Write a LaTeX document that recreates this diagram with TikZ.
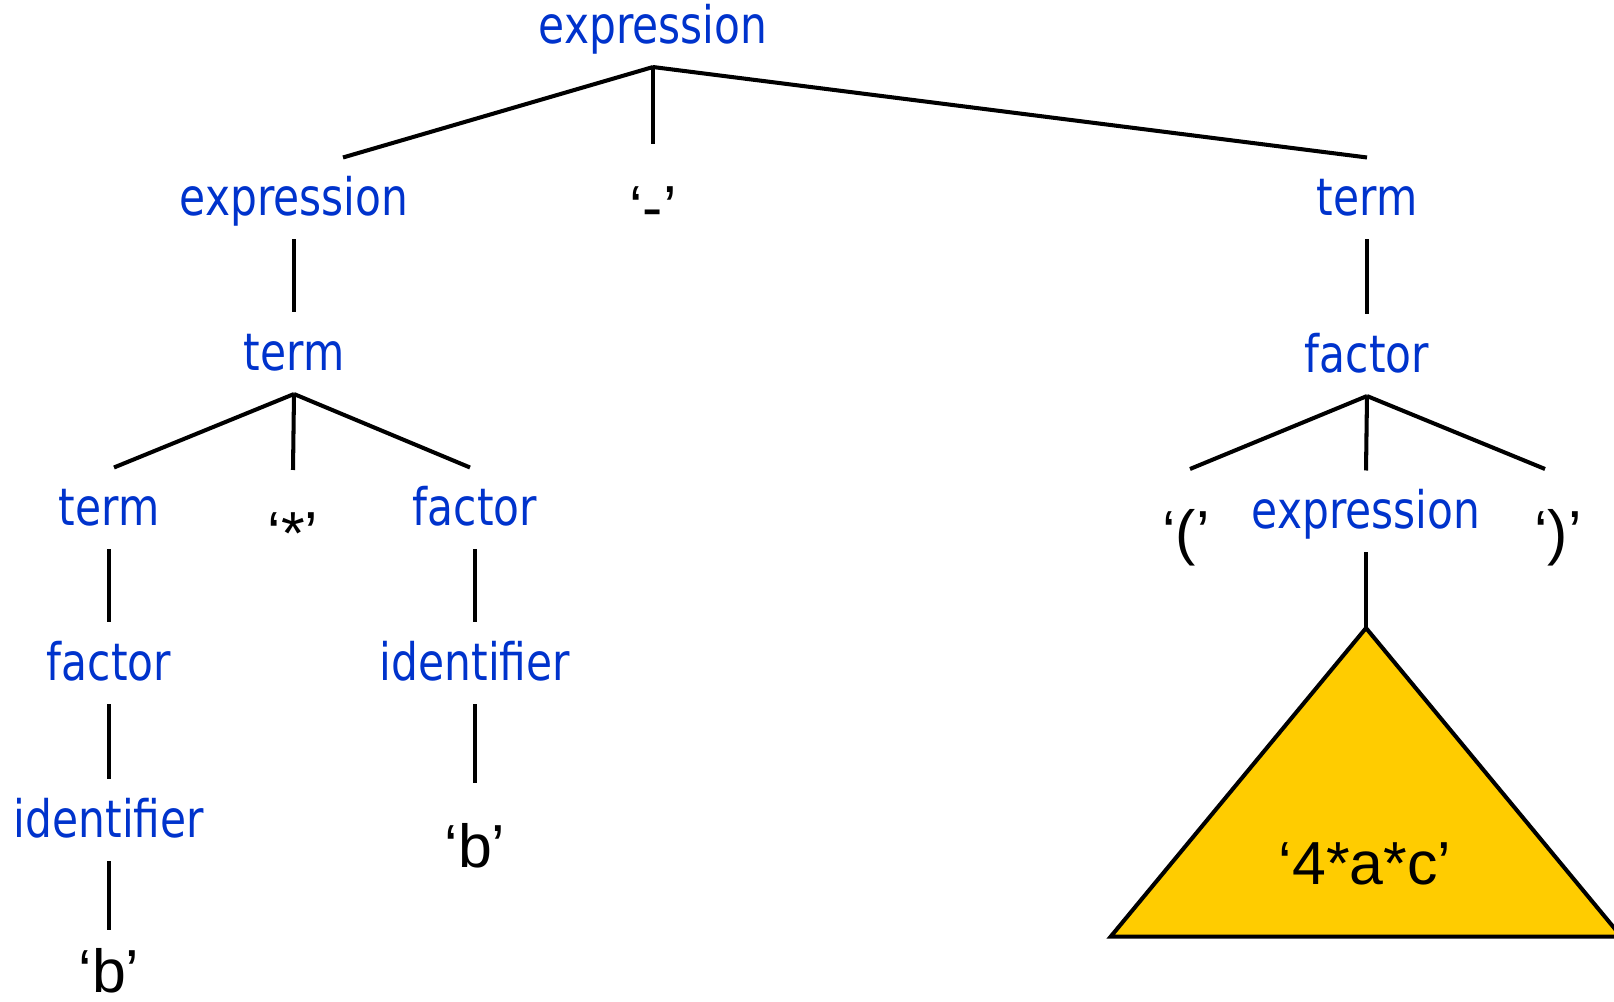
\documentclass[tikz,border=0pt]{standalone}
\usepackage{fontspec}
\setmainfont{Liberation Sans}
\newfontfamily\treefont[FakeStretch=0.82]{DejaVu Sans}
\definecolor{ntblue}{RGB}{0,51,204}
\definecolor{subyellow}{RGB}{255,204,0}

\begin{document}
\begin{tikzpicture}[line width=1.15pt,
  nt/.style={anchor=base,inner sep=0pt,text height=5.55mm,text depth=2.2mm,
    text=ntblue,font=\treefont\fontsize{14.7}{17}\selectfont},
  tok/.style={anchor=base,inner sep=0pt,text height=8.2mm,text depth=2mm,
    font=\fontsize{17.3}{20}\selectfont}]
  \useasboundingbox (0,0) rectangle (16.14,-10.01);
  \node[nt] (e0) at (6.53,-0.43) {expression};
  \node[nt] (e1) at (2.94,-2.15) {expression};
  \node[tok] (minus) at (6.53,-2.28) {‘-’};
  \node[nt] (tR) at (13.67,-2.15) {term};
  \node[nt] (t1) at (2.94,-3.70) {term};
  \node[nt] (fR) at (13.67,-3.72) {factor};
  \node[nt] (tL) at (1.09,-5.25) {term};
  \node[tok] (star) at (2.93,-5.54) {‘*’};
  \node[nt] (fL) at (4.75,-5.25) {factor};
  \node[tok] (lp) at (11.86,-5.53) {‘(’};
  \node[nt] (eR) at (13.66,-5.28) {expression};
  \node[tok] (rp) at (15.58,-5.53) {‘)’};
  \node[nt] (fL2) at (1.09,-6.80) {factor};
  \node[nt] (idR) at (4.75,-6.80) {identifier};
  \node[nt] (idL) at (1.09,-8.37) {identifier};
  \node[tok] (bR) at (4.75,-8.67) {‘b’};
  \node[tok,text depth=0pt] (bL) at (1.09,-9.92) {‘b’};
  \coordinate (sub) at (13.66,-6.28);
  \draw[fill=subyellow] (sub) -- (11.106,-9.367) -- (16.214,-9.367) -- cycle;
  \node[tok] (abc) at (13.65,-8.84) {‘4*a*c’};
  \draw (e0.south) -- ([xshift=4.9mm]e1.north);
  \draw (e0.south) -- (minus.north);
  \draw (e0.south) -- (tR.north);
  \draw (e1.south) -- (t1.north);
  \draw (t1.south) -- ([xshift=.5mm]tL.north);
  \draw (t1.south) -- (star.north);
  \draw (t1.south) -- ([xshift=-.5mm]fL.north);
  \draw (tL.south) -- (fL2.north);
  \draw (fL2.south) -- (idL.north);
  \draw[shorten >=-2.2mm] (idL.south) -- (bL.north);
  \draw (fL.south) -- (idR.north);
  \draw (idR.south) -- (bR.north);
  \draw (tR.south) -- (fR.north);
  \draw (fR.south) -- ([xshift=.4mm]lp.north);
  \draw (fR.south) -- (eR.north);
  \draw (fR.south) -- ([xshift=-1.3mm]rp.north);
  \draw (eR.south) -- (sub);
\end{tikzpicture}
\end{document}
